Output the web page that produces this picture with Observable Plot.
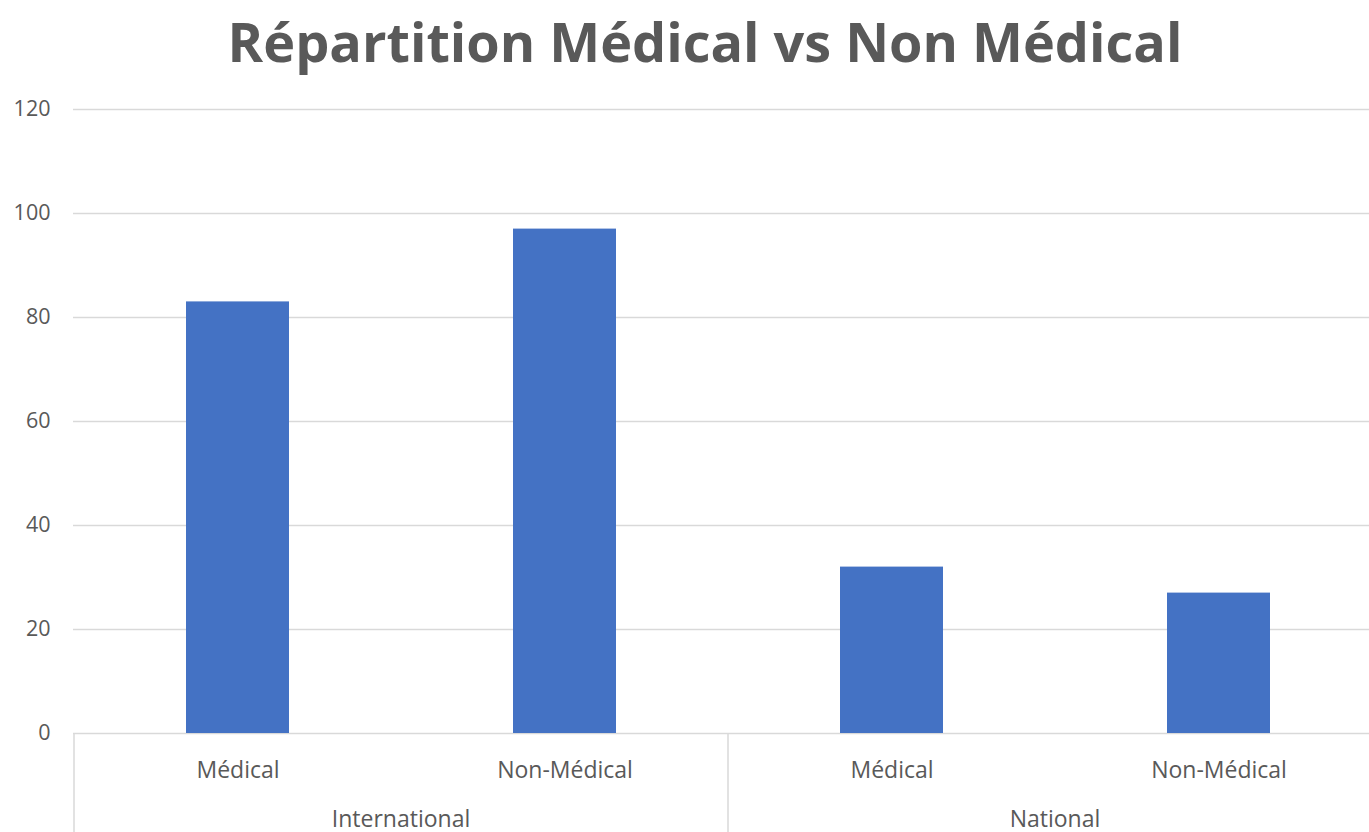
<!DOCTYPE html>
<html><head><meta charset="utf-8">
<script src="https://cdn.jsdelivr.net/npm/d3@7"></script>
<script src="https://cdn.jsdelivr.net/npm/@observablehq/plot@0.6"></script>
<style>
html,body{margin:0;padding:0;background:#fff;overflow:hidden;width:1369px;height:832px}
#title{position:absolute;left:0;top:1px;width:1410px;text-align:center;font-family:"Open Sans",sans-serif;font-weight:700;font-size:54px;color:#595959;line-height:80px;white-space:nowrap}
#chart{position:absolute;left:0;top:90px}
</style></head><body>
<div id="title"></div>
<div id="chart"></div>
<script>
const title = "Répartition Médical vs Non Médical";
const groups = ["International", "International", "National", "National"];
const categories = ["Médical", "Non-Médical", "Médical", "Non-Médical"];
const values = [83, 97, 32, 27];
const yTicks = [0, 20, 40, 60, 80, 100, 120];

document.getElementById("title").textContent = title;

const data = values.map((v, i) => ({key: groups[i] + "|" + categories[i], group: groups[i], cat: categories[i], value: v}));

function groupAxis(index, scales, channels, dimensions) {
  const x = scales.x;
  const bw = x.bandwidth();
  const step = x.step ? x.step() : bw;
  const y0 = dimensions.height - dimensions.marginBottom;
  const g = d3.create("svg:g");
  const names = [...new Set(groups)];
  for (const name of names) {
    const keys = data.filter(d => d.group === name).map(d => d.key);
    const left = x(keys[0]) - (step - bw) / 2;
    const right = x(keys[keys.length - 1]) + bw + (step - bw) / 2;
    g.append("line").attr("x1", left).attr("x2", left).attr("y1", y0).attr("y2", dimensions.height)
      .attr("stroke", "#D9D9D9").attr("stroke-width", 1.5);
    g.append("text").attr("x", (left + right) / 2).attr("y", y0 + 94).attr("text-anchor", "middle")
      .attr("font-size", 23).attr("fill", "#595959").text(name);
  }
  return g.node();
}

const chart = Plot.plot({
  width: 1369,
  height: 742,
  marginTop: 19,
  marginBottom: 99,
  marginLeft: 73,
  marginRight: 0,
  style: {fontFamily: "Open Sans, sans-serif", color: "#595959", background: "#fff", overflow: "visible"},
  x: {type: "band", domain: data.map(d => d.key), range: [72.7, 1383.5], paddingInner: 0.685, paddingOuter: 0.3425},
  y: {domain: [0, 120]},
  marks: [
    Plot.ruleY(yTicks, {stroke: "#D9D9D9", strokeWidth: 1.5, strokeOpacity: 1}),
    Plot.barY(data, {x: "key", y: "value", fill: "#4472C4"}),
    Plot.axisY({ticks: yTicks, tickSize: 0, tickPadding: 23, fontSize: 21.5, label: null}),
    Plot.axisX({tickSize: 0, tickPadding: 28, fontSize: 23, label: null, tickFormat: d => d.split("|")[1]}),
    groupAxis
  ]
});
document.getElementById("chart").appendChild(chart);
</script>
</body></html>
